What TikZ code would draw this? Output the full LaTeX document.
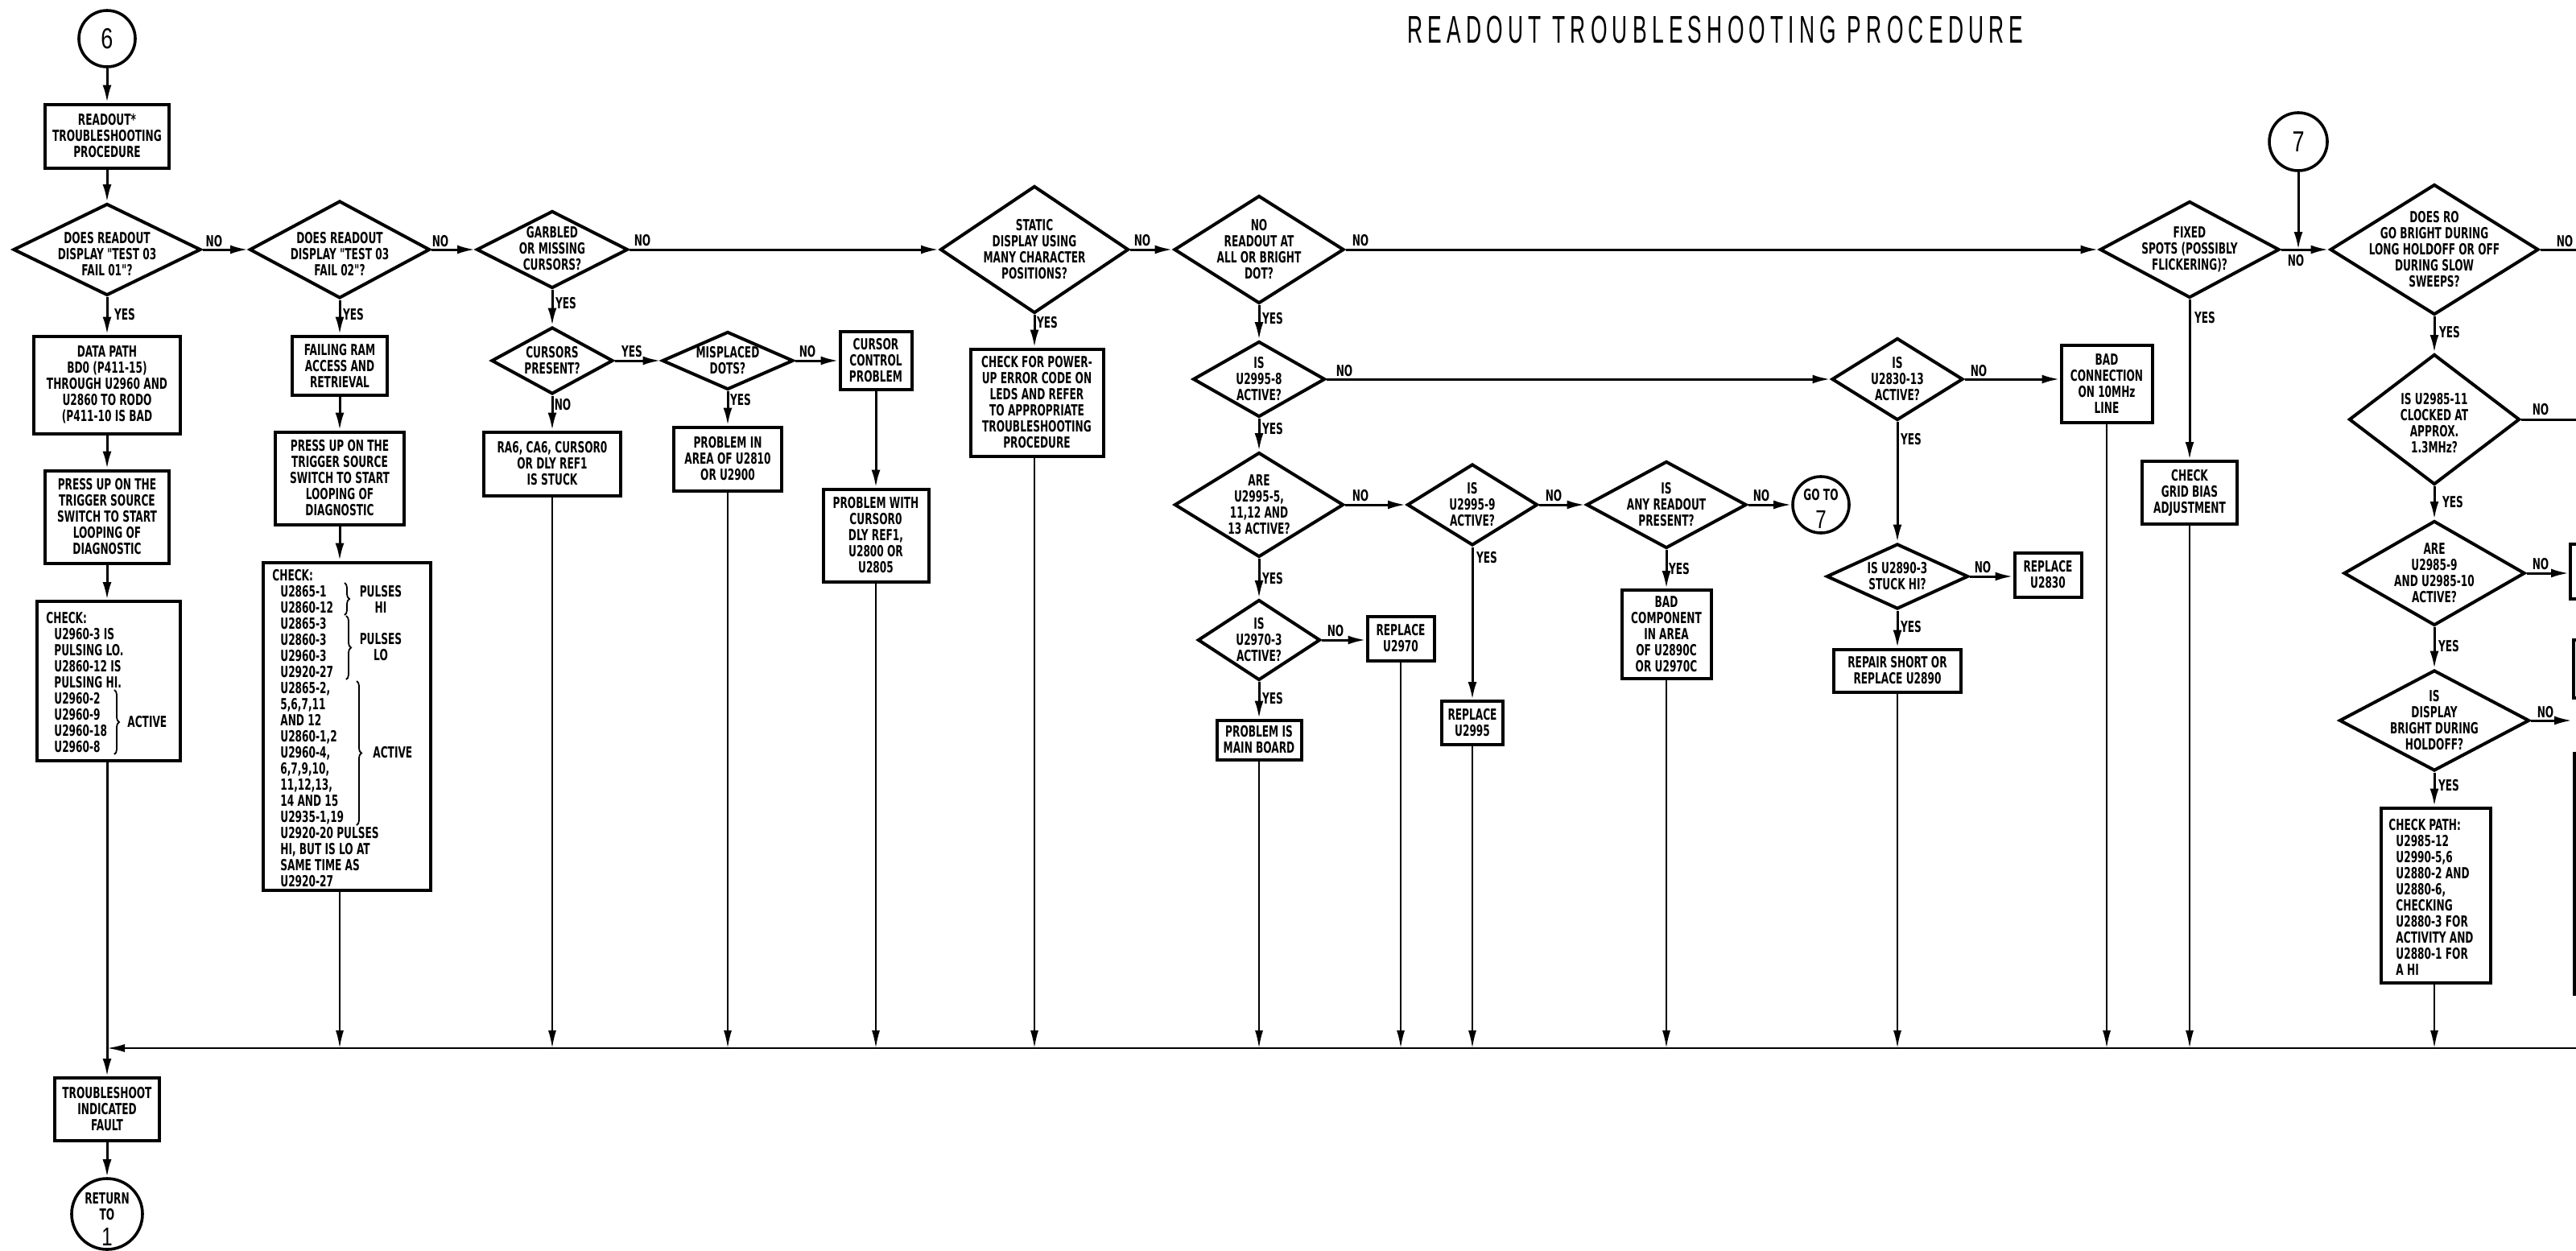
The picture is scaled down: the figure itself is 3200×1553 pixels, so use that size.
\documentclass[tikz,border=0pt]{standalone}
\usepackage{fontspec}
\setmainfont{DejaVu Sans}
\newfontfamily\fbx{DejaVu Sans}[FakeStretch=0.64]
\newfontfamily\fth{Liberation Sans}[FakeStretch=0.55,LetterSpace=13]
\newfontfamily\fdig{Liberation Sans}[FakeStretch=0.75]
\usetikzlibrary{arrows.meta,shapes.geometric,decorations.pathreplacing}
\tikzset{
  txt/.style={font={\fbx\bfseries\fontsize{9.5}{10}\selectfont}, align=center, inner sep=0pt},
  rbox/.style 2 args={draw, line width=2pt, rectangle, minimum width=#1*0.5pt, minimum height=#2*0.5pt, inner sep=0pt, txt},
  dmd/.style 2 args={draw, line width=2pt, diamond, minimum width=#1*0.5pt, minimum height=#2*0.5pt, inner sep=0pt},
  crc/.style={draw, line width=1.8pt, circle, minimum size=#1*0.5pt, inner sep=0pt},
  arr/.style={line width=1.5pt, -{Latex[length=11pt,width=5.5pt]}},
  plain/.style={line width=1.5pt},
  dropline/.style={line width=1pt, -{Latex[length=11pt,width=5pt]}},
  brc/.style={decorate, decoration={brace, amplitude=3pt}, line width=0.9pt},
  big/.style={font={\fdig\fontsize{18}{18}\selectfont}, inner sep=0pt},
}
\begin{document}
\begin{tikzpicture}[x=0.5pt,y=-0.5pt]
\fill[white] (0,0) rectangle (3200,1553);
\useasboundingbox (0,0) rectangle (3200,1553);

\node[font={\fth\fontsize{24}{24}\selectfont}, inner sep=0pt] (title) at (2131,37) {READOUT TROUBLESHOOTING PROCEDURE};

\coordinate (bot) at (0,1302);
\coordinate (br) at (3200,1302);

% ---------- column 1
\node[crc=70] (c6) at (133,48) {};
\node[big] (c6t) at (133,48) {6};
\node[rbox={154}{79}] (bStart) at (133,169) {READOUT*\\TROUBLESHOOTING\\PROCEDURE};
\node[dmd={233}{114}] (d1) at (133,310) {};
\node[txt] (d1t) at (133,316) {DOES READOUT\\DISPLAY "TEST 03\\FAIL 01"?};
\node[rbox={182}{121}] (bData) at (133,478) {DATA PATH\\BD0 (P411-15)\\THROUGH U2960 AND\\U2860 TO RODO\\(P411-10 IS BAD};
\node[rbox={154}{115}] (bPress1) at (133,642) {PRESS UP ON THE\\TRIGGER SOURCE\\SWITCH TO START\\LOOPING OF\\DIAGNOSTIC};
\node[rbox={178}{198}] (bCheck1) at (135,846) {};
\node[txt, anchor=north west, align=left] (k1t) at (57,760) {CHECK:\\
\hspace*{5pt}U2960-3 IS\\
\hspace*{5pt}PULSING LO.\\
\hspace*{5pt}U2860-12 IS\\
\hspace*{5pt}PULSING HI.\\
\hspace*{5pt}U2960-2\\
\hspace*{5pt}U2960-9\\
\hspace*{5pt}U2960-18\\
\hspace*{5pt}U2960-8};
\draw[brc] (142,857) -- (142,937);
\node[txt, anchor=west] (k1a) at (158,897) {ACTIVE};
\node[rbox={130}{78}] (bTrouble) at (133,1378) {TROUBLESHOOT\\INDICATED\\FAULT};
\node[crc=88] (cRet) at (133,1508) {};
\node[txt] (cRett) at (133,1499) {RETURN\\TO};
\node[big, font={\fdig\fontsize{16}{16}\selectfont}] (cRet1) at (133,1536) {1};

% ---------- column 2
\node[dmd={224}{121}] (d2) at (422,310) {};
\node[txt] (d2t) at (422,316) {DOES READOUT\\DISPLAY "TEST 03\\FAIL 02"?};
\node[rbox={118}{73}] (bFail) at (422,454) {FAILING RAM\\ACCESS AND\\RETRIEVAL};
\node[rbox={160}{115}] (bPress2) at (422,594) {PRESS UP ON THE\\TRIGGER SOURCE\\SWITCH TO START\\LOOPING OF\\DIAGNOSTIC};
\node[rbox={208}{407}] (bCheck2) at (431,902) {};
\node[txt, anchor=north west, align=left] (k2t) at (338,707) {CHECK:\\
\hspace*{5pt}U2865-1\\
\hspace*{5pt}U2860-12\\
\hspace*{5pt}U2865-3\\
\hspace*{5pt}U2860-3\\
\hspace*{5pt}U2960-3\\
\hspace*{5pt}U2920-27\\
\hspace*{5pt}U2865-2,\\
\hspace*{5pt}5,6,7,11\\
\hspace*{5pt}AND 12\\
\hspace*{5pt}U2860-1,2\\
\hspace*{5pt}U2960-4,\\
\hspace*{5pt}6,7,9,10,\\
\hspace*{5pt}11,12,13,\\
\hspace*{5pt}14 AND 15\\
\hspace*{5pt}U2935-1,19\\
\hspace*{5pt}U2920-20 PULSES\\
\hspace*{5pt}HI, BUT IS LO AT\\
\hspace*{5pt}SAME TIME AS\\
\hspace*{5pt}U2920-27};
\draw[brc] (428,724) -- (428,764);
\draw[brc] (430,765) -- (430,844);
\draw[brc] (443,846) -- (443,1025);
\node[txt] (k2a) at (473,744) {PULSES\\HI};
\node[txt] (k2b) at (473,804) {PULSES\\LO};
\node[txt, anchor=west] (k2c) at (463,935) {ACTIVE};

% ---------- cursors group
\node[dmd={188}{96}] (d3) at (686,310) {};
\node[txt] (d3t) at (686,309) {GARBLED\\OR MISSING\\CURSORS?};
\node[dmd={151}{83}] (d5) at (686,448) {};
\node[txt] (d5t) at (686,448) {CURSORS\\PRESENT?};
\node[rbox={170}{79}] (bRA6) at (686,576) {RA6, CA6, CURSOR0\\OR DLY REF1\\IS STUCK};
\node[dmd={163}{72}] (d6) at (904,448) {};
\node[txt] (d6t) at (904,448) {MISPLACED\\DOTS?};
\node[rbox={134}{79}] (bArea) at (904,570) {PROBLEM IN\\AREA OF U2810\\OR U2900};
\node[rbox={89}{72}] (bCursorCtl) at (1088,448) {CURSOR\\CONTROL\\PROBLEM};
\node[rbox={131}{115}] (bCursor0) at (1088,665) {PROBLEM WITH\\CURSOR0\\DLY REF1,\\U2800 OR\\U2805};

% ---------- static display
\node[dmd={234}{158}] (d4) at (1285,310) {};
\node[txt] (d4t) at (1285,310) {STATIC\\DISPLAY USING\\MANY CHARACTER\\POSITIONS?};
\node[rbox={165}{133}] (bPower) at (1288,500) {CHECK FOR POWER-\\UP ERROR CODE ON\\LEDS AND REFER\\TO APPROPRIATE\\TROUBLESHOOTING\\PROCEDURE};

% ---------- no readout
\node[dmd={211}{134}] (d7) at (1564,310) {};
\node[txt] (d7t) at (1564,310) {NO\\READOUT AT\\ALL OR BRIGHT\\DOT?};
\node[dmd={164}{94}] (d8) at (1564,471) {};
\node[txt] (d8t) at (1564,471) {IS\\U2995-8\\ACTIVE?};
\node[dmd={210}{130}] (d9) at (1564,627) {};
\node[txt] (d9t) at (1564,627) {ARE\\U2995-5,\\11,12 AND\\13 ACTIVE?};
\node[dmd={152}{100}] (d11) at (1564,795) {};
\node[txt] (d11t) at (1564,795) {IS\\U2970-3\\ACTIVE?};
\node[rbox={83}{55}] (bRep2970) at (1740,793) {REPLACE\\U2970};
\node[rbox={105}{49}] (bMain) at (1564,919) {PROBLEM IS\\MAIN BOARD};
\node[dmd={162}{101}] (d10) at (1829,627) {};
\node[txt] (d10t) at (1829,627) {IS\\U2995-9\\ACTIVE?};
\node[rbox={76}{54}] (bRep2995) at (1829,898) {REPLACE\\U2995};
\node[dmd={199}{108}] (d12) at (2070,627) {};
\node[txt] (d12t) at (2070,627) {IS\\ANY READOUT\\PRESENT?};
\node[crc=70] (cGo7) at (2262,627) {};
\node[txt] (cGo7a) at (2262,615) {GO TO};
\node[big, font={\fdig\fontsize{16}{16}\selectfont}] (cGo7b) at (2262,645) {7};
\node[rbox={111}{110}] (bBadComp) at (2070,788) {BAD\\COMPONENT\\IN AREA\\OF U2890C\\OR U2970C};

% ---------- U2830 branch
\node[dmd={163}{102}] (d13) at (2357,471) {};
\node[txt] (d13t) at (2357,471) {IS\\U2830-13\\ACTIVE?};
\node[rbox={113}{96}] (bBadConn) at (2617,477) {BAD\\CONNECTION\\ON 10MHz\\LINE};
\node[dmd={176}{81}] (d14) at (2357,716) {};
\node[txt] (d14t) at (2357,716) {IS U2890-3\\STUCK HI?};
\node[rbox={83}{55}] (bRep2830) at (2544,714) {REPLACE\\U2830};
\node[rbox={158}{53}] (bRepair) at (2357,833) {REPAIR SHORT OR\\REPLACE U2890};

% ---------- fixed spots / RO
\node[dmd={223}{120}] (d15) at (2720,310) {};
\node[txt] (d15t) at (2720,310) {FIXED\\SPOTS (POSSIBLY\\FLICKERING)?};
\node[rbox={118}{78}] (bGrid) at (2720,612) {CHECK\\GRID BIAS\\ADJUSTMENT};
\node[crc=72] (c7) at (2855,176) {};
\node[big] (c7t) at (2855,176) {7};
\node[dmd={259}{162}] (d16) at (3024,310) {};
\node[txt] (d16t) at (3024,310) {DOES RO\\GO BRIGHT DURING\\LONG HOLDOFF OR OFF\\DURING SLOW\\SWEEPS?};
\node[dmd={212}{162}] (d17) at (3024,521) {};
\node[txt] (d17t) at (3024,526) {IS U2985-11\\CLOCKED AT\\APPROX.\\1.3MHz?};
\node[dmd={225}{130}] (d18) at (3024,712) {};
\node[txt] (d18t) at (3024,712) {ARE\\U2985-9\\AND U2985-10\\ACTIVE?};
\node[dmd={236}{125}] (d19) at (3024,895) {};
\node[txt] (d19t) at (3024,895) {IS\\DISPLAY\\BRIGHT DURING\\HOLDOFF?};
\node[rbox={136}{217}] (bCheckPath) at (3026,1112) {};
\node[txt, anchor=north west, align=left] (kpt) at (2967,1017) {CHECK PATH:\\
\hspace*{4.5pt}U2985-12\\
\hspace*{4.5pt}U2990-5,6\\
\hspace*{4.5pt}U2880-2 AND\\
\hspace*{4.5pt}U2880-6,\\
\hspace*{4.5pt}CHECKING\\
\hspace*{4.5pt}U2880-3 FOR\\
\hspace*{4.5pt}ACTIVITY AND\\
\hspace*{4.5pt}U2880-1 FOR\\
\hspace*{4.5pt}A HI};
\node[rbox={68}{68}] (p1) at (3227,710) {};
\node[rbox={66}{72}] (p2) at (3230,831) {};
\node[rbox={68}{299}] (p3) at (3232,1085) {};
\coordinate (e16) at (3200,310);
\coordinate (e17) at (3200,521);

% ---------- connectors
\draw[arr] (c6) -- (bStart);
\draw[arr] (bStart) -- (d1);
\draw[arr] (d1) -- (bData);
\draw[arr] (bData) -- (bPress1);
\draw[arr] (bPress1.south) -- (bPress1.south |- bCheck1.north);
\draw[arr] (bPress1.south |- bCheck1.south) -- (bTrouble.north);
\draw[arr] (bTrouble) -- (cRet);
\draw[line width=1.2pt, -{Latex[length=11pt,width=5pt]}] (br) -- (bPress1.south |- bot);

\draw[arr] (d1.east) -- (d2.west);
\draw[arr] (d2) -- (bFail);
\draw[arr] (bFail) -- (bPress2);
\draw[arr] (bPress2.south) -- (bPress2.south |- bCheck2.north);
\draw[dropline] (bPress2.south |- bCheck2.south) -- (bPress2.south |- bot);

\draw[arr] (d2.east) -- (d3.west);
\draw[arr] (d3) -- (d5);
\draw[arr] (d5) -- (bRA6);
\draw[arr] (d5.east) -- (d6.west);
\draw[arr] (d6) -- (bArea);
\draw[arr] (d6.east) -- (bCursorCtl.west);
\draw[arr] (bCursorCtl) -- (bCursor0);
\draw[dropline] (bRA6.south) -- (bRA6.south |- bot);
\draw[dropline] (bArea.south) -- (bArea.south |- bot);
\draw[dropline] (bCursor0.south) -- (bCursor0.south |- bot);

\draw[arr] (d3.east) -- (d4.west);
\draw[arr] (d4.south) -- (d4.south |- bPower.north);
\draw[dropline] (d4.south |- bPower.south) -- (d4.south |- bot);

\draw[arr] (d4.east) -- (d7.west);
\draw[arr] (d7) -- (d8);
\draw[arr] (d8) -- (d9);
\draw[arr] (d9) -- (d11);
\draw[arr] (d11) -- (bMain);
\draw[arr] (d11.east) -- (d11.east -| bRep2970.west);
\draw[dropline] (bMain.south) -- (bMain.south |- bot);
\draw[dropline] (bRep2970.south) -- (bRep2970.south |- bot);
\draw[arr] (d9.east) -- (d10.west);
\draw[arr] (d10) -- (bRep2995);
\draw[dropline] (bRep2995.south) -- (bRep2995.south |- bot);
\draw[arr] (d10.east) -- (d12.west);
\draw[arr] (d12.east) -- (cGo7.west);
\draw[arr] (d12) -- (bBadComp);
\draw[dropline] (bBadComp.south) -- (bBadComp.south |- bot);

\draw[arr] (d8.east) -- (d13.west);
\draw[arr] (d13.east) -- (d13.east -| bBadConn.west);
\draw[dropline] (bBadConn.south) -- (bBadConn.south |- bot);
\draw[arr] (d13) -- (d14);
\draw[arr] (d14.east) -- (d14.east -| bRep2830.west);
\draw[arr] (d14) -- (bRepair);
\draw[dropline] (bRepair.south) -- (bRepair.south |- bot);

\draw[arr] (d7.east) -- (d15.west);
\draw[arr] (d15) -- (bGrid);
\draw[dropline] (bGrid.south) -- (bGrid.south |- bot);
\draw[arr] (d15.east) -- (d16.west);
\draw[arr] (c7.south) -- (c7.south |- d15.east);
\draw[plain] (d16.east) -- (e16);
\draw[arr] (d16) -- (d17);
\draw[plain] (d17.east) -- (e17);
\draw[arr] (d17) -- (d18);
\draw[arr] (d18.east) -- (d18.east -| p1.west);
\draw[arr] (d18) -- (d19);
\draw[arr] (d19.east) -- (d19.east -| p2.west);
\draw[arr] (d19.south) -- (d19.south |- bCheckPath.north);
\draw[dropline] (d19.south |- bCheckPath.south) -- (d19.south |- bot);

% ---------- labels
\node[txt] (n1) at (266,300) {NO};
\node[txt] (n2) at (547,300) {NO};
\node[txt] (n3) at (798,299) {NO};
\node[txt] (n4) at (1419,299) {NO};
\node[txt] (n5) at (1690,299) {NO};
\node[txt] (n6) at (1670,461) {NO};
\node[txt] (n7) at (1690,616) {NO};
\node[txt] (n8) at (1930,616) {NO};
\node[txt] (n9) at (2188,616) {NO};
\node[txt] (n10) at (2458,461) {NO};
\node[txt] (n11) at (2463,705) {NO};
\node[txt] (n12) at (1659,784) {NO};
\node[txt] (n13) at (1003,437) {NO};
\node[txt] (n14) at (2852,324) {NO};
\node[txt] (n15) at (3186,300) {NO};
\node[txt] (n16) at (3156,509) {NO};
\node[txt] (n17) at (3156,701) {NO};
\node[txt] (n18) at (3162,885) {NO};
\node[txt] (n19) at (699,503) {NO};
\node[txt] (y1) at (155,391) {YES};
\node[txt] (y2) at (439,391) {YES};
\node[txt] (y3) at (703,377) {YES};
\node[txt] (y4) at (785,437) {YES};
\node[txt] (y5) at (920,497) {YES};
\node[txt] (y6) at (1301,401) {YES};
\node[txt] (y7) at (1581,396) {YES};
\node[txt] (y8) at (1581,533) {YES};
\node[txt] (y9) at (1581,719) {YES};
\node[txt] (y10) at (1581,868) {YES};
\node[txt] (y11) at (1847,693) {YES};
\node[txt] (y12) at (2086,707) {YES};
\node[txt] (y13) at (2374,546) {YES};
\node[txt] (y14) at (2374,779) {YES};
\node[txt] (y15) at (2739,395) {YES};
\node[txt] (y16) at (3043,413) {YES};
\node[txt] (y17) at (3047,624) {YES};
\node[txt] (y18) at (3042,803) {YES};
\node[txt] (y19) at (3042,976) {YES};
\end{tikzpicture}
\end{document}
